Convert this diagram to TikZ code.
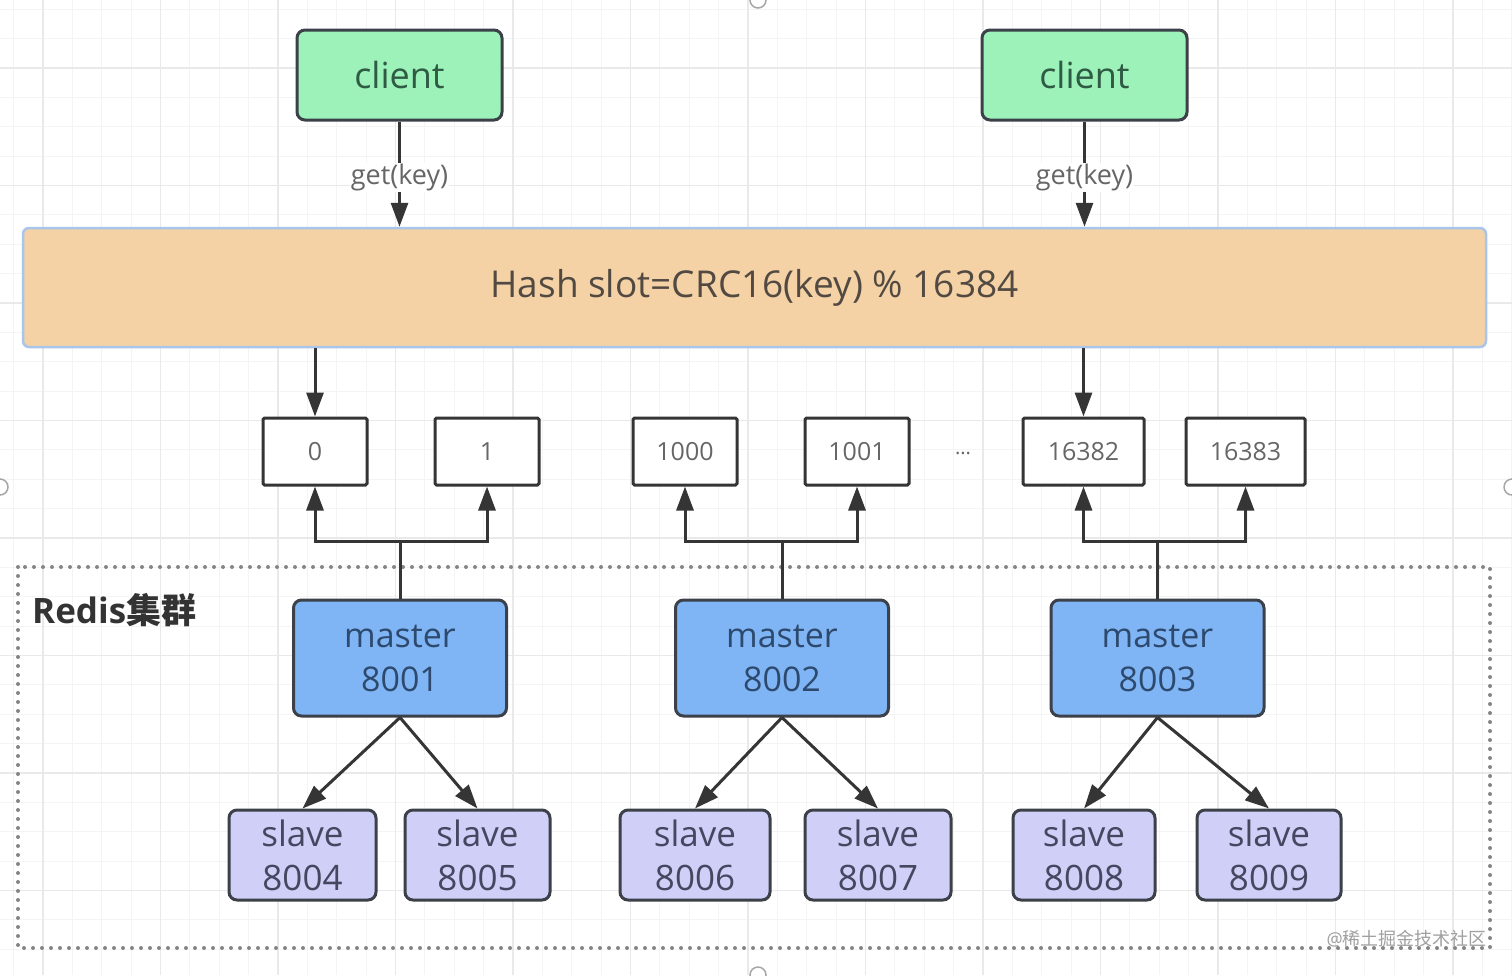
\documentclass[tikz,border=0pt]{standalone}
\usepackage{fontspec}
\setmainfont{Open Sans}
\newfontfamily\cjk{Noto Sans CJK SC}
\usetikzlibrary{arrows.meta}
\definecolor{gridminor}{HTML}{F4F4F4}
\definecolor{gridmajor}{HTML}{E9E9E9}
\definecolor{clientfill}{HTML}{9CF2B9}
\definecolor{clienttext}{HTML}{2F5A44}
\definecolor{hashfill}{HTML}{F4D2A5}
\definecolor{hashborder}{HTML}{A9C5EC}
\definecolor{hashtext}{HTML}{524A42}
\definecolor{masterfill}{HTML}{80B5F5}
\definecolor{mastertext}{HTML}{2D4A6E}
\definecolor{slavefill}{HTML}{CFCFF7}
\definecolor{slavetext}{HTML}{45465F}
\definecolor{boxborder}{HTML}{3C4048}
\definecolor{arrowcol}{HTML}{353535}
\definecolor{slottext}{HTML}{666666}
\definecolor{dotcol}{HTML}{858585}
\definecolor{marktext}{HTML}{A0A0A0}
\begin{document}
\begin{tikzpicture}[x=1pt,y=-1pt,
  base/.style={inner sep=0pt, align=center},
  clientbox/.style={base, draw=boxborder, line width=3pt, fill=clientfill, rounded corners=8pt,
    minimum width=205pt, minimum height=90pt, text=clienttext, font=\fontsize{36}{45}\selectfont},
  hashbox/.style={base, draw=hashborder, line width=2.5pt, fill=hashfill, rounded corners=6pt,
    minimum width=1463pt, minimum height=119pt, text=hashtext, font=\fontsize{37}{45}\selectfont},
  slotbox/.style={base, draw=arrowcol, line width=3pt, fill=white, rounded corners=1.5pt,
    minimum height=67pt, text=slottext, font=\fontsize{25}{30}\selectfont},
  masterbox/.style={base, draw=boxborder, line width=3pt, fill=masterfill, rounded corners=8pt,
    minimum width=213pt, minimum height=116pt, text=mastertext, font=\fontsize{34}{44}\selectfont},
  slavebox/.style={base, draw=boxborder, line width=3pt, fill=slavefill, rounded corners=8pt,
    minimum height=90pt, text=slavetext, font=\fontsize{35}{44}\selectfont},
  arr/.style={draw=arrowcol, line width=3pt, -{Triangle[length=24pt,width=17pt]}},
  conn/.style={draw=arrowcol, line width=3pt},
  lbl/.style={fill=white, inner sep=1pt, yshift=-3pt, text=slottext, font=\fontsize{27}{30}\selectfont},
  handle/.style={draw=gray!70, fill=white, line width=1.5pt}
]
\useasboundingbox (0,0) rectangle (1512,975);
\fill[white] (0,0) rectangle (1512,975);
% background grid
\foreach \gx in {0,...,52} {\draw[gridminor, line width=1pt] ({13.6+\gx*29.375},0) -- ({13.6+\gx*29.375},975);}
\foreach \gy in {0,...,33} {\draw[gridminor, line width=1pt] (0,{9.25+\gy*29.375}) -- (1512,{9.25+\gy*29.375});}
\foreach \gx in {0,...,13} {\draw[gridmajor, line width=1.2pt] ({43+\gx*117.5},0) -- ({43+\gx*117.5},975);}
\foreach \gy in {0,...,8} {\draw[gridmajor, line width=1.2pt] (0,{68+\gy*117.5}) -- (1512,{68+\gy*117.5});}
% selection handles
\draw[handle] (758,0) circle (8pt);
\draw[handle] (0,487) circle (8pt);
\draw[handle] (1512,487) circle (8pt);
\draw[handle] (758,975) circle (8pt);

% cluster frame
\draw[dotcol, line width=4pt, line cap=round, dash pattern=on 0pt off 9pt] (18,567) rectangle (1490,948);
\node[anchor=base west, text=black!80, inner sep=0pt, font=\fontsize{35}{40}\selectfont\bfseries] (title) at (32,623) {Redis{\cjk\bfseries 集群}};
\node[anchor=base east, text=marktext, inner sep=0pt, font=\fontsize{18}{22}\selectfont] (mark) at (1487,945) {@{\cjk 稀土掘金技术社区}};

% clients and hash
\node[clientbox] (c1) at (399.5,75) {client};
\node[clientbox] (c2) at (1084.5,75) {client};
\node[hashbox] (hash) at (754.5,287.5) {Hash slot=CRC16(key) \% 16384};

% slots
\node[slotbox, minimum width=104pt] (s0) at (315,451.5) {0};
\node[slotbox, minimum width=104pt] (s1) at (487,451.5) {1};
\node[slotbox, minimum width=104pt] (s1000) at (685,451.5) {1000};
\node[slotbox, minimum width=104pt] (s1001) at (857,451.5) {1001};
\node[slotbox, minimum width=121pt] (s16382) at (1083.5,451.5) {16382};
\node[slotbox, minimum width=119pt] (s16383) at (1245.5,451.5) {16383};
\node[text=slottext, inner sep=0pt, font=\fontsize{20}{24}\selectfont] (dots) at (963,453) {...};

% masters
\node[masterbox] (m1) at (400,658) {master\\8001};
\node[masterbox] (m2) at (782,658) {master\\8002};
\node[masterbox] (m3) at (1157.5,658) {master\\8003};

% slaves
\node[slavebox, minimum width=147pt] (sl4) at (302.5,855) {slave\\8004};
\node[slavebox, minimum width=145pt] (sl5) at (477.5,855) {slave\\8005};
\node[slavebox, minimum width=150pt] (sl6) at (695,855) {slave\\8006};
\node[slavebox, minimum width=146pt] (sl7) at (878,855) {slave\\8007};
\node[slavebox, minimum width=142pt] (sl8) at (1084,855) {slave\\8008};
\node[slavebox, minimum width=144pt] (sl9) at (1269,855) {slave\\8009};

% client -> hash
\draw[arr] (c1.south) -- node[lbl] {get(key)} (c1.south |- hash.north);
\draw[arr] (c2.south) -- node[lbl] {get(key)} (c2.south |- hash.north);
% hash -> slots
\draw[arr] (s0.north |- hash.south) -- (s0.north);
\draw[arr] (s16382.north |- hash.south) -- (s16382.north);

% masters -> slots
\coordinate (j1) at (400,541);
\coordinate (j2) at (782,541);
\coordinate (j3) at (1157.5,541);
\draw[conn] (m1.north) -- (j1);
\draw[conn] (m2.north) -- (j2);
\draw[conn] (m3.north) -- (j3);
\draw[arr] (j1) -| (s0.south);
\draw[arr] (j1) -| (s1.south);
\draw[arr] (j2) -| (s1000.south);
\draw[arr] (j2) -| (s1001.south);
\draw[arr] (j3) -| (s16382.south);
\draw[arr] (j3) -| (s16383.south);

% masters -> slaves
\draw[arr] (m1.south) -- (sl4.north);
\draw[arr] (m1.south) -- (sl5.north);
\draw[arr] (m2.south) -- (sl6.north);
\draw[arr] (m2.south) -- (sl7.north);
\draw[arr] (m3.south) -- (sl8.north);
\draw[arr] (m3.south) -- (sl9.north);
\end{tikzpicture}
\end{document}
